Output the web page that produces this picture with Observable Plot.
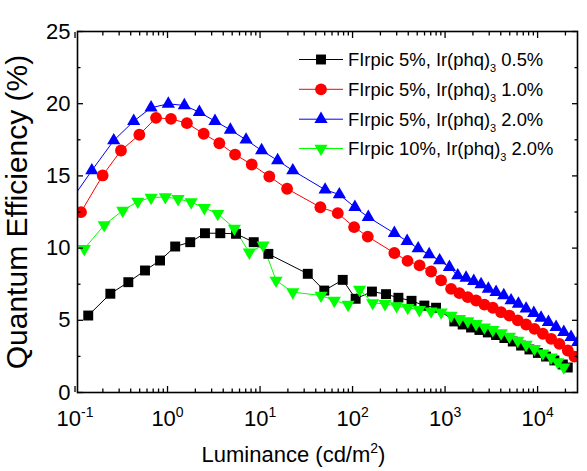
<!DOCTYPE html>
<html><head><meta charset="utf-8">
<script src="https://cdn.jsdelivr.net/npm/d3@7"></script>
<script src="https://cdn.jsdelivr.net/npm/@observablehq/plot@0.6"></script>
<style>
body{margin:0;background:#fff;}
#chart{position:relative;width:587px;height:471px;font-family:"Liberation Sans",Arial,sans-serif;}
</style>
</head><body><div id="chart"></div>
<script>
// ---- data ----
const seriesNames = ["FIrpic 5%, Ir(phq)3 0.5%", "FIrpic 5%, Ir(phq)3 1.0%", "FIrpic 5%, Ir(phq)3 2.0%", "FIrpic 10%, Ir(phq)3 2.0%"];
const legendMain = ["FIrpic 5%, Ir(phq)", "FIrpic 5%, Ir(phq)", "FIrpic 5%, Ir(phq)", "FIrpic 10%, Ir(phq)"];
const legendSub = ["3", "3", "3", "3"];
const legendTail = [" 0.5%", " 1.0%", " 2.0%", " 2.0%"];
const seriesColors = ["#000000", "#ff0000", "#0000ff", "#00ff00"];
const seriesSymbols = ["square", "circle", "triangle", "triangle"];
const seriesRotate = [0, 0, 0, 180];

const lumBlack = [0.139,0.241,0.377,0.571,0.830,1.21,1.76,2.54,3.72,5.50,8.55,12.3,32.8,49.5,78.3,108,162,230,313,434,597,799,1259,1549,1910,2350,2897,3558,4375,5395,6637,8166,10070,12360,15200,18750,21200];
const qeBlack = [5.33,6.84,7.64,8.45,9.14,10.11,10.41,11.03,11.03,10.99,10.41,9.60,8.22,7.06,7.80,6.49,6.99,6.81,6.56,6.35,6.02,5.87,4.92,4.71,4.50,4.33,4.16,3.98,3.77,3.53,3.25,2.98,2.74,2.49,2.22,1.94,1.73];

const lumRed = [0.116,0.199,0.314,0.496,0.751,1.09,1.62,2.46,3.63,5.37,8.13,12.6,19.6,44.9,69.2,104,146,283,393,530,707,906,1161,1429,1760,2163,2661,3281,4030,4955,6109,7515,9246,11400,14000,17200,21200,25000];
const qeRed = [12.49,15.03,16.76,17.85,19.02,18.95,18.65,17.92,17.26,16.48,15.79,14.96,14.11,12.83,12.42,11.45,10.80,9.66,9.11,8.80,8.38,7.76,7.18,6.88,6.60,6.37,6.09,5.87,5.56,5.33,4.99,4.71,4.41,4.07,3.72,3.37,2.91,2.49];

const lumBlue = [0.086,0.152,0.262,0.431,0.664,1.02,1.52,2.21,3.26,4.78,7.06,10.4,15.5,22.6,50.5,72,106,148,283,389,512,673,873,1114,1371,1687,2042,2449,2938,3558,4310,5170,6205,7515,9100,10900,13100,15850,19200,23000,27200];
const qeBlue = [13.1,15.37,17.45,18.79,19.72,19.99,19.88,19.41,18.79,18.19,17.50,16.76,16.07,15.37,14.04,13.71,12.83,12.14,11.03,10.48,9.97,9.56,9.14,8.68,8.10,7.93,7.71,7.48,7.18,6.95,6.72,6.37,6.14,5.80,5.49,5.17,4.87,4.52,4.18,3.83,3.48];

const lumGreen = [0.126,0.207,0.328,0.477,0.664,0.947,1.30,1.80,2.50,3.49,5.28,7.66,10.8,14.9,22.6,45.6,63.5,89.4,119,165,224,299,395,527,706,906,1161,1429,1760,2163,2661,3281,4030,4955,6109,7515,9246,11400,14000,16500,19200];
const qeGreen = [9.95,11.6,12.6,13.23,13.5,13.54,13.41,13.18,12.79,12.38,11.36,9.70,10.2,7.76,6.95,6.72,6.37,6.09,7.13,6.20,6.14,5.99,5.87,5.73,5.63,5.56,5.33,5.10,4.94,4.76,4.52,4.34,4.11,3.88,3.60,3.32,3.03,2.72,2.44,2.10,1.75];

const xTicks = [0.1, 1, 10, 100, 1000, 10000];
const xTickBase = "10";
const xTickExps = ["-1", "0", "1", "2", "3", "4"];
const yTicks = [0, 5, 10, 15, 20, 25];
const yMinorTicks = [2.5, 7.5, 12.5, 17.5, 22.5];
const xLabelMain = "Luminance (cd/m";
const xLabelSup = "2";
const xLabelTail = ")";
const yLabel = "Quantum Efficiency (%)";

// ---- build ----
const lums = [lumBlack, lumRed, lumBlue, lumGreen];
const qes = [qeBlack, qeRed, qeBlue, qeGreen];
const tables = lums.map((L, s) => L.map((l, i) => ({s, lum: l, qe: qes[s][i]})));
const xDomain = [0.1064, 27000];
const xMinorTicks = [];
for (let e = -1; e <= 4; e++) for (let m = 2; m <= 9; m++) {
  const v = m * Math.pow(10, e);
  if (v > xDomain[0] && v < xDomain[1]) xMinorTicks.push(v);
}
const xIndex = d => xTicks.findIndex(t => Math.abs(t - d) / t < 1e-6);
const xTickLabelOf = d => xTickBase + "^" + xTickExps[xIndex(d)];

const FONT = '"Liberation Sans", Arial, sans-serif';
const drawOrder = [0, 2, 1, 3];
const symR = [5.6, 5.9, 4.9, 4.9];
const dataMarks = [];
for (const s of drawOrder) {
  dataMarks.push(Plot.line(tables[s], {x: "lum", y: "qe", stroke: seriesColors[s], strokeWidth: 1, clip: true}));
}
for (const s of drawOrder) {
  dataMarks.push(Plot.dot(tables[s], {x: "lum", y: "qe", fill: seriesColors[s], stroke: "none",
    symbol: seriesSymbols[s], rotate: seriesRotate[s], r: symR[s], clip: true}));
}

const TW = 1.3, MAJ = 6, MIN = 3.5;
const W = 587, H = 471;
const chart = Plot.plot({
  width: W, height: H,
  marginLeft: 77, marginRight: 10, marginTop: 31, marginBottom: 79,
  style: {fontFamily: FONT, background: "#fff", color: "#000", overflow: "visible"},
  x: {type: "log", domain: xDomain, axis: null},
  y: {domain: [0, 25], axis: null},
  marks: [
    ...dataMarks,
    // tick labels
    Plot.axisX(xTicks, {anchor: "bottom", tickSize: 0, tickPadding: 18, tickFormat: xTickLabelOf, fontSize: 22, label: null}),
    Plot.axisY(yTicks, {anchor: "left", tickSize: 0, tickPadding: 7, fontSize: 22, label: null}),
    // inward ticks on all four sides
    Plot.axisX(xTicks, {anchor: "bottom", tickSize: MAJ, dy: -MAJ, fill: "none", tickFormat: () => "", label: null, strokeWidth: TW}),
    Plot.axisX(xMinorTicks, {anchor: "bottom", tickSize: MIN, dy: -MIN, fill: "none", tickFormat: () => "", label: null, strokeWidth: TW}),
    Plot.axisX(xTicks, {anchor: "top", tickSize: MAJ, dy: MAJ, fill: "none", tickFormat: () => "", label: null, strokeWidth: TW}),
    Plot.axisX(xMinorTicks, {anchor: "top", tickSize: MIN, dy: MIN, fill: "none", tickFormat: () => "", label: null, strokeWidth: TW}),
    Plot.axisY(yTicks, {anchor: "left", tickSize: MAJ, dx: MAJ, fill: "none", tickFormat: () => "", label: null, strokeWidth: TW}),
    Plot.axisY(yMinorTicks, {anchor: "left", tickSize: MIN, dx: MIN, fill: "none", tickFormat: () => "", label: null, strokeWidth: TW}),
    Plot.axisY(yTicks, {anchor: "right", tickSize: MAJ, dx: -MAJ, fill: "none", tickFormat: () => "", label: null, strokeWidth: TW}),
    Plot.axisY(yMinorTicks, {anchor: "right", tickSize: MIN, dx: -MIN, fill: "none", tickFormat: () => "", label: null, strokeWidth: TW}),
    Plot.frame({stroke: "#000", strokeWidth: 1.6}),
    Plot.text([xLabelMain + xLabelSup + xLabelTail], {frameAnchor: "bottom", textAnchor: "middle", lineAnchor: "middle", dx: -34, dy: 62, fontSize: 22, fill: "#000"}),
    Plot.text([yLabel], {frameAnchor: "left", textAnchor: "middle", lineAnchor: "middle", dx: -60, rotate: -90, fontSize: 30, fill: "#000"})
  ]
});
document.getElementById("chart").appendChild(chart);
const svg = d3.select(chart);

// ---- real superscripts for the x tick labels and the x title ----
svg.selectAll('g[aria-label="x-axis tick label"] text').each(function() {
  const el = d3.select(this);
  const s = el.text();
  const k = s.indexOf("^");
  if (k < 0) return;
  el.text(null);
  el.append("tspan").text(s.slice(0, k));
  el.append("tspan").attr("font-size", 14).attr("dy", -9).text(s.slice(k + 1));
});
svg.selectAll("text").filter(function() { return d3.select(this).text() === xLabelMain + xLabelSup + xLabelTail; }).each(function() {
  const el = d3.select(this);
  el.text(null);
  el.append("tspan").text(xLabelMain);
  el.append("tspan").attr("font-size", 14).attr("dy", -9).text(xLabelSup);
  el.append("tspan").attr("dy", 9).text(xLabelTail);
});

// ---- legend (inside the frame, top right) ----
const lg = svg.append("g").attr("class", "legend").attr("font-family", FONT).attr("text-anchor", "start");
const rowY = [59.5, 89.3, 119.2, 148.5];
seriesNames.forEach((name, s) => {
  const g = lg.append("g").attr("transform", `translate(0,${rowY[s]})`).attr("aria-label", name);
  g.append("line").attr("x1", 299).attr("x2", 343).attr("y1", 0).attr("y2", 0).attr("stroke", seriesColors[s]).attr("stroke-width", 1);
  const sym = {square: d3.symbolSquare, circle: d3.symbolCircle, triangle: d3.symbolTriangle}[seriesSymbols[s]];
  g.append("path").attr("d", d3.symbol(sym, Math.PI * symR[s] * symR[s])())
    .attr("transform", `translate(321,0) rotate(${seriesRotate[s]})`).attr("fill", seriesColors[s]);
  const t = g.append("text").attr("x", 348).attr("y", 6.5).attr("font-size", 18.4).attr("fill", "#000").attr("text-anchor", "start");
  t.append("tspan").text(legendMain[s]);
  t.append("tspan").attr("font-size", 11).attr("dy", 6).text(legendSub[s]);
  t.append("tspan").attr("dy", -6).text(legendTail[s]);
});
</script>
</body></html>
